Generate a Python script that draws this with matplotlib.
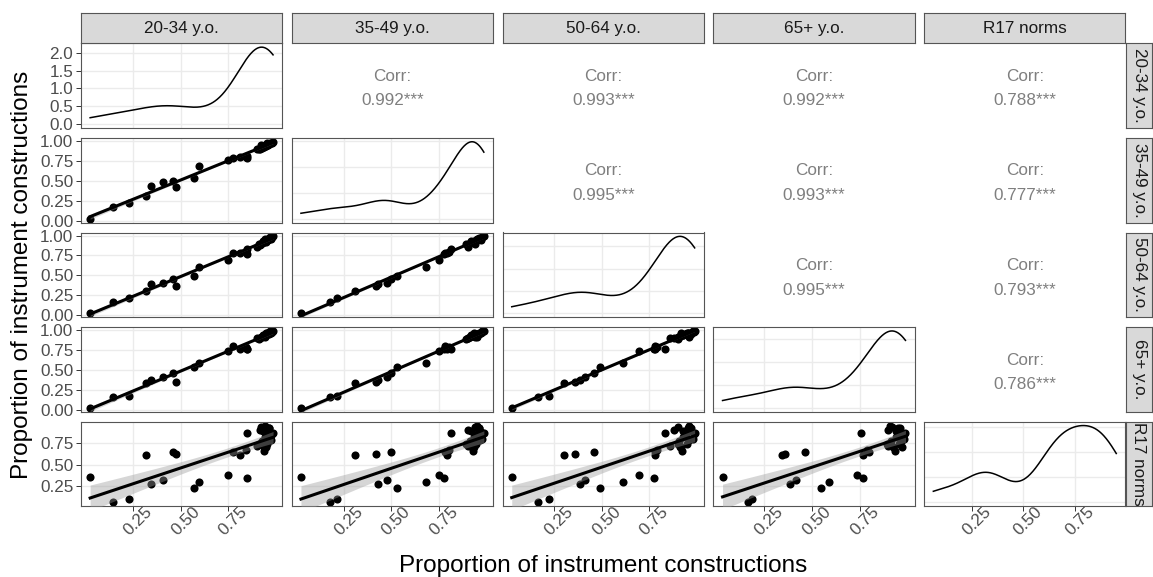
import numpy as np
import matplotlib
matplotlib.use("Agg")
import matplotlib.pyplot as plt
from matplotlib.transforms import ScaledTranslation

plt.rcParams['font.family'] = ['Liberation Sans', 'DejaVu Sans']

# proportions per item
a20 = [0.023, 0.142, 0.229, 0.318, 0.341, 0.407, 0.461, 0.475, 0.569, 0.594,
       0.749, 0.775, 0.810, 0.845, 0.848, 0.848, 0.898, 0.950, 0.915, 0.945,
       0.964, 0.985, 0.953, 0.930, 0.970, 0.940, 0.910, 0.920, 0.975, 0.960,
       0.955, 0.935, 0.980, 0.925, 0.965, 0.945]
a35 = [0.025, 0.175, 0.215, 0.309, 0.428, 0.477, 0.498, 0.418, 0.527, 0.681,
       0.751, 0.780, 0.790, 0.800, 0.812, 0.777, 0.900, 0.935, 0.900, 0.950,
       0.960, 0.985, 0.970, 0.920, 0.975, 0.930, 0.890, 0.940, 0.965, 0.950,
       0.945, 0.925, 0.975, 0.910, 0.960, 0.935]
a50 = [0.026, 0.163, 0.222, 0.302, 0.388, 0.411, 0.458, 0.362, 0.492, 0.611,
       0.695, 0.780, 0.780, 0.790, 0.835, 0.774, 0.860, 0.920, 0.880, 0.960,
       0.970, 0.990, 0.950, 0.930, 0.980, 0.925, 0.900, 0.900, 0.960, 0.940,
       0.950, 0.915, 0.985, 0.905, 0.955, 0.930]
a65 = [0.032, 0.163, 0.184, 0.343, 0.383, 0.417, 0.464, 0.360, 0.547, 0.590,
       0.737, 0.800, 0.770, 0.790, 0.759, 0.767, 0.900, 0.970, 0.900, 0.910,
       0.950, 0.990, 0.960, 0.940, 0.985, 0.935, 0.895, 0.920, 0.970, 0.950,
       0.955, 0.925, 0.980, 0.915, 0.960, 0.940]
r17 = [0.353, 0.062, 0.104, 0.612, 0.280, 0.326, 0.643, 0.620, 0.227, 0.299,
       0.380, 0.651, 0.617, 0.674, 0.861, 0.349, 0.712, 0.708, 0.904, 0.953,
       0.927, 0.865, 0.880, 0.890, 0.800, 0.660, 0.740, 0.940, 0.780, 0.850,
       0.740, 0.700, 0.860, 0.770, 0.920, 0.820]

var_labels = ['20-34 y.o.', '35-49 y.o.', '50-64 y.o.', '65+ y.o.', 'R17 norms']
corr_labels = {(0, 1): '0.992***', (0, 2): '0.993***', (0, 3): '0.992***', (0, 4): '0.788***',
               (1, 2): '0.995***', (1, 3): '0.993***', (1, 4): '0.777***',
               (2, 3): '0.995***', (2, 4): '0.793***',
               (3, 4): '0.786***'}
x_ticks = [0.25, 0.50, 0.75]

data = [np.array(v) for v in (a20, a35, a50, a65, r17)]
nvar = len(data)

W, H = 1153, 577
left0, colstep, pw = 81.0, 210.8, 201.2
top0, rowstep, ph = 43.3, 94.6, 84.6


def rect(left, top, w, h):
    return [left / W, 1 - (top + h) / H, w / W, h / H]


def lims(v):
    lo, hi = v.min(), v.max()
    r = hi - lo
    return lo - 0.05 * r, hi + 0.05 * r


def nrd0(x):
    sd = x.std(ddof=1)
    q75, q25 = np.percentile(x, [75, 25])
    return 0.9 * min(sd, (q75 - q25) / 1.34) * len(x) ** -0.2


def kde(x):
    grid = np.linspace(x.min(), x.max(), 512)
    bw = nrd0(x)
    z = (grid[:, None] - x[None, :]) / bw
    d = np.exp(-0.5 * z ** 2).sum(axis=1) / (len(x) * bw * np.sqrt(2 * np.pi))
    return grid, d


def lm_band(x, y, t_crit=2.03):
    b1, b0 = np.polyfit(x, y, 1)
    xs = np.linspace(x.min(), x.max(), 80)
    fit = b0 + b1 * xs
    n = len(x)
    resid = y - (b0 + b1 * x)
    s = np.sqrt((resid ** 2).sum() / (n - 2))
    se = s * np.sqrt(1 / n + (xs - x.mean()) ** 2 / ((x - x.mean()) ** 2).sum())
    return xs, fit, fit - t_crit * se, fit + t_crit * se


def style(ax):
    ax.set_facecolor('white')
    for sp in ax.spines.values():
        sp.set_color('#555555')
        sp.set_linewidth(0.8)
    ax.grid(True, color='#EBEBEB', linewidth=1.0)
    ax.set_axisbelow(True)
    ax.tick_params(length=3.5, width=0.7, color='#333333', labelsize=12.3,
                   labelcolor='#4D4D4D', pad=2)


fig = plt.figure(figsize=(W / 100, H / 100), dpi=100)
shift = ScaledTranslation(5 / 100, 0, fig.dpi_scale_trans)

for i in range(nvar):
    for j in range(nvar):
        ax = fig.add_axes(rect(left0 + j * colstep, top0 + i * rowstep, pw, ph))
        if i < j:
            ax.set_axis_off()
            ax.text(0.5, 0.61, 'Corr:', ha='center', va='center', fontsize=12.3,
                    color='#7F7F7F', transform=ax.transAxes)
            ax.text(0.5, 0.32, corr_labels[(i, j)], ha='center', va='center',
                    fontsize=12.3, color='#7F7F7F', transform=ax.transAxes)
            continue
        style(ax)
        x = data[j]
        ax.set_xlim(*lims(x))
        ax.set_xticks(x_ticks)
        if i == j:
            g, d = kde(x)
            ax.plot(g, d, color='black', linewidth=1.1)
            ax.set_ylim(-0.05 * d.max(), 1.05 * d.max())
            if i == 0:
                ax.set_yticks([0.0, 0.5, 1.0, 1.5, 2.0])
                ax.set_yticklabels(['%.1f' % v for v in [0.0, 0.5, 1.0, 1.5, 2.0]])
            else:
                ax.yaxis.set_major_locator(plt.MaxNLocator(4))
        else:
            y = data[i]
            ax.scatter(x, y, s=34, color='black', linewidths=0, zorder=2)
            xs, fit, lo, hi = lm_band(x, y)
            ax.fill_between(xs, lo, hi, color='#999999', alpha=0.4, linewidth=0, zorder=3)
            ax.plot(xs, fit, color='black', linewidth=2.2, zorder=4)
            ax.set_ylim(*lims(y))
            if i < 4:
                yt = [0.0, 0.25, 0.5, 0.75, 1.0]
            else:
                yt = [0.25, 0.5, 0.75]
            ax.set_yticks(yt)
            ax.set_yticklabels(['%.2f' % v for v in yt])
        if j > 0:
            ax.tick_params(left=False, labelleft=False)
        if i < nvar - 1:
            ax.tick_params(bottom=False, labelbottom=False)
        else:
            ax.tick_params(axis='x', pad=-5)
            ax.set_xticklabels(['%.2f' % v for v in x_ticks], rotation=45)
            for lbl in ax.get_xticklabels():
                lbl.set_transform(lbl.get_transform() + shift)

# facet strips
for j in range(nvar):
    sax = fig.add_axes(rect(left0 + j * colstep, 13.0, pw, 30.3))
    sax.set_facecolor('#D9D9D9')
    sax.set_xticks([])
    sax.set_yticks([])
    for sp in sax.spines.values():
        sp.set_color('#555555')
        sp.set_linewidth(0.8)
    sax.text(0.5, 0.5, var_labels[j], ha='center', va='center', fontsize=12.3,
             color='#1A1A1A', transform=sax.transAxes)

for i in range(nvar):
    sax = fig.add_axes(rect(1126.0, top0 + i * rowstep, 26.0, ph))
    sax.set_facecolor('#D9D9D9')
    sax.set_xticks([])
    sax.set_yticks([])
    for sp in sax.spines.values():
        sp.set_color('#555555')
        sp.set_linewidth(0.8)
    sax.text(0.5, 0.5, var_labels[i], ha='center', va='center', fontsize=12.3,
             rotation=-90, color='#1A1A1A', transform=sax.transAxes)

fig.text(603.5 / W, 1 - 566 / H, 'Proportion of instrument constructions',
         ha='center', va='center', fontsize=17.5, color='black')
fig.text(22 / W, 1 - 275 / H, 'Proportion of instrument constructions',
         ha='center', va='center', fontsize=17.5, rotation=90, color='black')

fig.savefig('out.png', dpi=100)
